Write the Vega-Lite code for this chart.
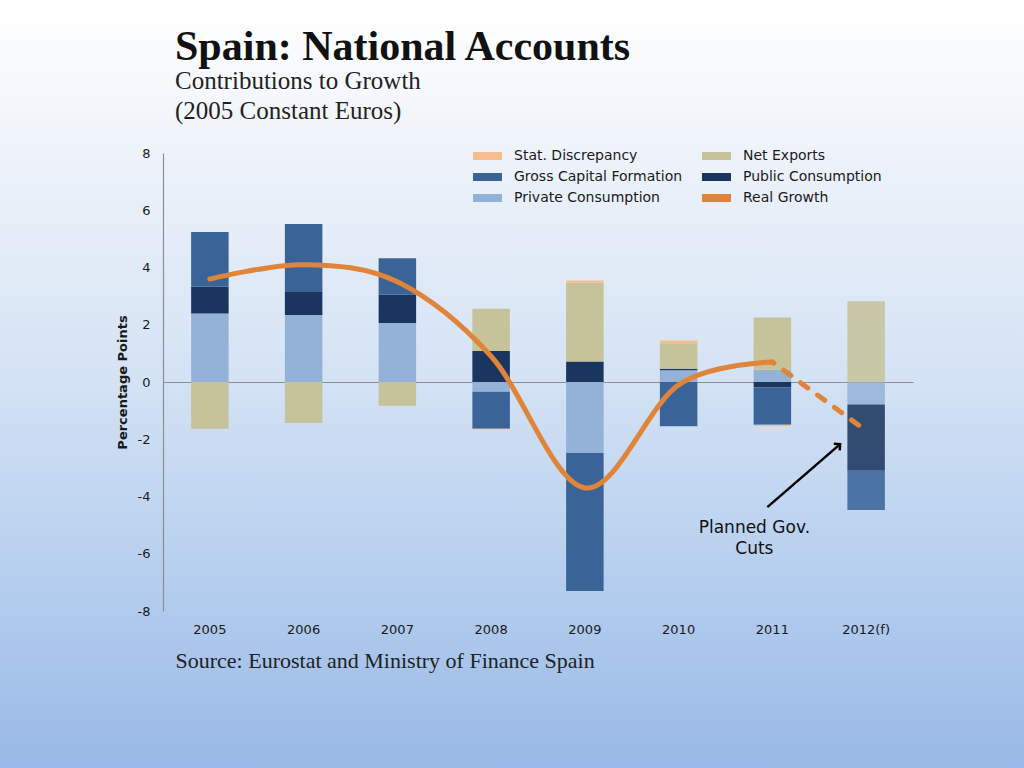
{
  "$schema": "https://vega.github.io/schema/vega-lite/v6.json",
  "width": 1024,
  "height": 768,
  "autosize": {"type": "none"},
  "padding": 0,
  "background": "#ffffff",
  "view": {
    "stroke": null,
    "fill": {
      "gradient": "linear", "x1": 0, "y1": 0, "x2": 0, "y2": 1,
      "stops": [
        {"offset": 0, "color": "#ffffff"},
        {"offset": 0.2, "color": "#eef3fa"},
        {"offset": 0.5, "color": "#d3e2f4"},
        {"offset": 0.78, "color": "#b2ccee"},
        {"offset": 1, "color": "#98b8e5"}
      ]
    }
  },
  "title": {
    "text": "Spain: National Accounts",
    "subtitle": ["Contributions to Growth", "(2005 Constant Euros)"],
    "anchor": "start", "frame": "group", "dx": 175, "offset": -125,
    "font": "Liberation Serif", "fontSize": 42, "fontWeight": "bold", "color": "#111111",
    "subtitleFont": "Liberation Serif", "subtitleFontSize": 25, "subtitleColor": "#222222",
    "subtitleLineHeight": 30, "subtitlePadding": 0
  },
  "datasets": {
    "contrib": [
      {"year": "2005", "component": "Private Consumption", "value": 2.39},
      {"year": "2005", "component": "Public Consumption", "value": 0.94},
      {"year": "2005", "component": "Gross Capital Formation", "value": 1.91},
      {"year": "2005", "component": "Net Exports", "value": -1.63},
      {"year": "2006", "component": "Private Consumption", "value": 2.34},
      {"year": "2006", "component": "Public Consumption", "value": 0.80},
      {"year": "2006", "component": "Gross Capital Formation", "value": 2.38},
      {"year": "2006", "component": "Net Exports", "value": -1.43},
      {"year": "2007", "component": "Private Consumption", "value": 2.06},
      {"year": "2007", "component": "Public Consumption", "value": 0.99},
      {"year": "2007", "component": "Gross Capital Formation", "value": 1.27},
      {"year": "2007", "component": "Net Exports", "value": -0.83},
      {"year": "2008", "component": "Private Consumption", "value": -0.34},
      {"year": "2008", "component": "Public Consumption", "value": 1.08},
      {"year": "2008", "component": "Gross Capital Formation", "value": -1.29},
      {"year": "2008", "component": "Net Exports", "value": 1.48},
      {"year": "2008", "component": "Stat. Discrepancy", "value": -0.03},
      {"year": "2009", "component": "Private Consumption", "value": -2.48},
      {"year": "2009", "component": "Public Consumption", "value": 0.72},
      {"year": "2009", "component": "Gross Capital Formation", "value": -4.82},
      {"year": "2009", "component": "Net Exports", "value": 2.76},
      {"year": "2009", "component": "Stat. Discrepancy", "value": 0.07},
      {"year": "2010", "component": "Private Consumption", "value": 0.41},
      {"year": "2010", "component": "Public Consumption", "value": 0.05},
      {"year": "2010", "component": "Gross Capital Formation", "value": -1.55},
      {"year": "2010", "component": "Net Exports", "value": 0.89},
      {"year": "2010", "component": "Stat. Discrepancy", "value": 0.10},
      {"year": "2011", "component": "Private Consumption", "value": 0.43},
      {"year": "2011", "component": "Public Consumption", "value": -0.19},
      {"year": "2011", "component": "Gross Capital Formation", "value": -1.30},
      {"year": "2011", "component": "Net Exports", "value": 1.82},
      {"year": "2011", "component": "Stat. Discrepancy", "value": -0.05},
      {"year": "2012(f)", "component": "Private Consumption", "value": -0.79},
      {"year": "2012(f)", "component": "Public Consumption", "value": -2.31},
      {"year": "2012(f)", "component": "Gross Capital Formation", "value": -1.37},
      {"year": "2012(f)", "component": "Net Exports", "value": 2.82}
    ],
    "growth": [
      {"year": "2005", "growth": 3.6},
      {"year": "2006", "growth": 4.1},
      {"year": "2007", "growth": 3.5},
      {"year": "2008", "growth": 0.9},
      {"year": "2009", "growth": -3.7},
      {"year": "2010", "growth": -0.1},
      {"year": "2011", "growth": 0.7},
      {"year": "2012(f)", "growth": -1.7}
    ]
  },
  "layer": [
    {
      "data": {"name": "contrib"},
      "transform": [
        {"calculate": "indexof(['Private Consumption','Public Consumption','Gross Capital Formation','Net Exports','Stat. Discrepancy'], datum.component)", "as": "ord"}
      ],
      "mark": {"type": "bar", "strokeWidth": 0},
      "encoding": {
        "x": {
          "field": "year", "type": "nominal",
          "scale": {"domain": ["2005","2006","2007","2008","2009","2010","2011","2012(f)"], "range": [163, 913], "paddingInner": 0.6, "paddingOuter": 0.3},
          "axis": {
            "orient": "bottom", "offset": -386, "domain": true, "domainColor": "#8a8f96", "domainWidth": 1.2,
            "ticks": false, "grid": false, "labelPadding": 241, "labelAngle": 0,
            "labelFont": "DejaVu Sans", "labelFontSize": 13, "labelColor": "#1a1a1a",
            "title": "Source: Eurostat and Ministry of Finance Spain",
            "titleFont": "Liberation Serif", "titleFontSize": 22, "titleFontWeight": "normal", "titleColor": "#222222",
            "titleX": 175, "titleY": 285, "titleAlign": "left", "titleBaseline": "alphabetic", "titleAnchor": "start"
          }
        },
        "y": {
          "field": "value", "type": "quantitative", "stack": "zero",
          "scale": {"domain": [-8, 8], "range": [611, 153], "nice": false, "zero": false},
          "axis": {
            "orient": "left", "offset": -163, "values": [-8,-6,-4,-2,0,2,4,6,8],
            "labelExpr": "toString(datum.value)",
            "domain": true, "domainColor": "#8a8f96", "domainWidth": 1.2, "ticks": false, "grid": false,
            "labelPadding": 13, "labelFont": "DejaVu Sans", "labelFontSize": 13, "labelColor": "#1a1a1a",
            "title": "Percentage Points", "titleFont": "DejaVu Sans", "titleFontSize": 13, "titleFontWeight": "bold",
            "titleColor": "#1a1a1a", "titleX": -41, "titleY": 382, "titleBaseline": "middle", "titleAngle": -90, "titleAlign": "center"
          }
        },
        "color": {
          "field": "component", "type": "nominal",
          "scale": {
            "domain": ["Stat. Discrepancy","Gross Capital Formation","Private Consumption","Net Exports","Public Consumption","Real Growth"],
            "range": ["#f6be8f","#3a6498","#94b2d7","#c6c29a","#1b365e","#e0843a"]
          },
          "legend": {
            "orient": "none", "legendX": 480.5, "legendY": 149, "title": null, "columns": 2,
            "symbolType": "M-2.07,-0.57H2.07V0.57H-2.07Z", "symbolSize": 196, "symbolStrokeWidth": 0,
            "labelOffset": 19.5, "columnPadding": 19, "rowPadding": 7, "padding": 0, "labelLimit": 400,
            "labelFont": "DejaVu Sans", "labelFontSize": 14, "labelColor": "#1a1a1a", "symbolOpacity": 1
          }
        },
        "order": {"field": "ord", "type": "quantitative"},
        "opacity": {"condition": {"test": "datum.year === '2012(f)'", "value": 0.87}, "value": 1}
      }
    },
    {
      "data": {"name": "growth"},
      "transform": [{"filter": "datum.year !== '2012(f)'"}],
      "mark": {"type": "line", "interpolate": "cardinal", "color": "#e0843a", "strokeWidth": 5, "strokeCap": "round"},
      "encoding": {
        "x": {"field": "year", "type": "nominal"},
        "y": {"field": "growth", "type": "quantitative"}
      }
    },
    {
      "data": {"name": "growth"},
      "transform": [{"filter": "datum.year === '2011' || datum.year === '2012(f)'"}],
      "mark": {"type": "line", "color": "#e0843a", "strokeWidth": 5, "strokeCap": "round", "strokeDash": [9, 12], "strokeDashOffset": -14},
      "encoding": {
        "x": {"field": "year", "type": "nominal"},
        "y": {"field": "growth", "type": "quantitative"}
      }
    },
    {
      "data": {"values": [{}]},
      "mark": {"type": "rule", "color": "#000000", "strokeWidth": 2.5, "xOffset": -5, "x2Offset": -26},
      "encoding": {
        "x": {"datum": "2011"},
        "x2": {"datum": "2012(f)"},
        "y": {"datum": -4.37},
        "y2": {"datum": -2.17}
      }
    },
    {
      "data": {"values": [{}]},
      "mark": {"type": "point", "shape": "M-1,1L0,0L1,1", "filled": false, "stroke": "#000000", "strokeWidth": 2.5, "size": 80, "angle": 49, "xOffset": -26, "opacity": 1},
      "encoding": {
        "x": {"datum": "2012(f)"},
        "y": {"datum": -2.17}
      }
    },
    {
      "data": {"values": [{}]},
      "mark": {"type": "text", "font": "DejaVu Sans", "fontSize": 17, "color": "#111111", "align": "center", "baseline": "top", "lineHeight": 21, "dx": -18},
      "encoding": {
        "x": {"datum": "2011"},
        "y": {"datum": -4.82},
        "text": {"value": ["Planned Gov.", "Cuts"]}
      }
    }
  ]
}
